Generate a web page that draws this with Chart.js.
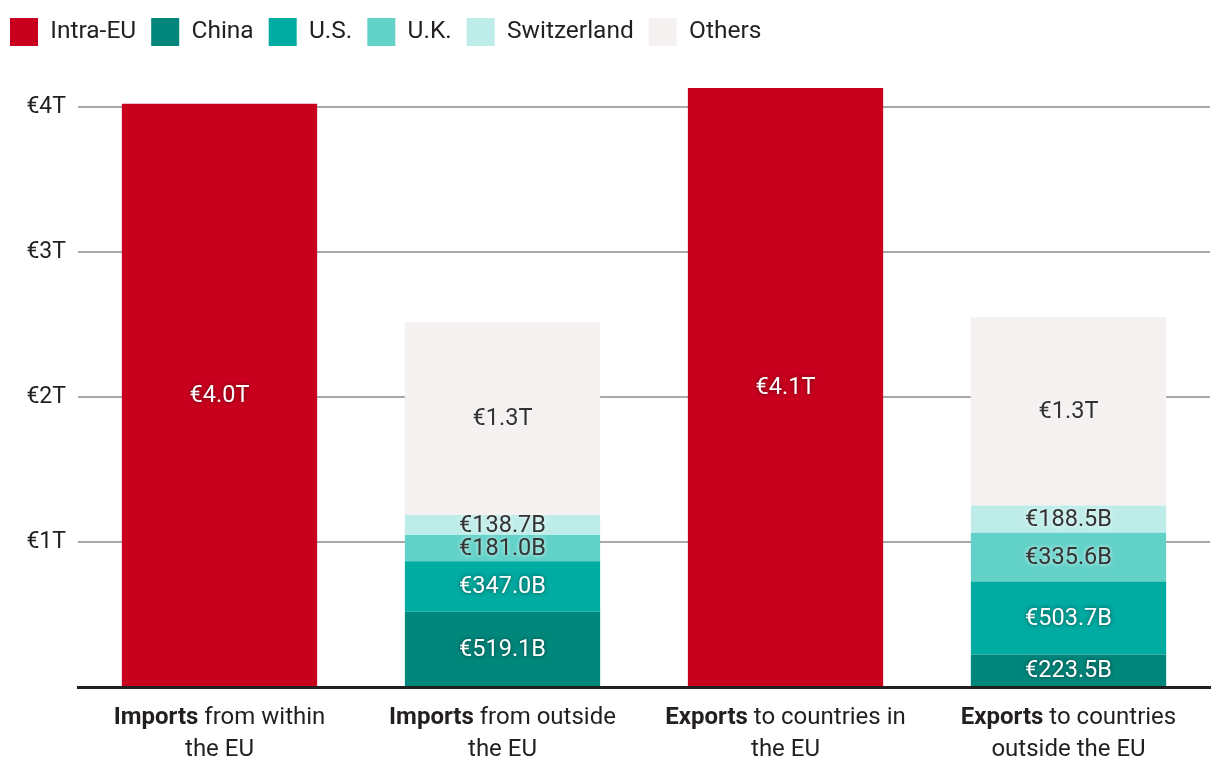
<!DOCTYPE html>
<html>
<head>
<meta charset="utf-8">
<script src="https://cdn.jsdelivr.net/npm/chart.js@4.4.1/dist/chart.umd.min.js"></script>
<style>
html,body{margin:0;padding:0;background:#fff;}
#wrap{width:1220px;height:770px;position:relative;}
</style>
</head>
<body>
<div id="wrap"><canvas id="c" width="1220" height="770"></canvas></div>
<script>
// Category labels: bold lead word, rest of first line, second line
const categoryBold = ['Imports', 'Imports', 'Exports', 'Exports'];
const categoryLine1 = [' from within', ' from outside', ' to countries in', ' to countries'];
const categoryLine2 = ['the EU', 'the EU', 'the EU', 'outside the EU'];
const categories = categoryBold.map((b, i) => [b + categoryLine1[i], categoryLine2[i]]);

// Values in billions of euros
const intraEU     = [4020, null, 4130, null];
const china       = [null, 519.1, null, 223.5];
const us          = [null, 347.0, null, 503.7];
const uk          = [null, 181.0, null, 335.6];
const switzerland = [null, 138.7, null, 188.5];
const others      = [null, 1330, null, 1300];

const seriesNames = ['Intra-EU', 'China', 'U.S.', 'U.K.', 'Switzerland', 'Others'];
const yTicks = [1000, 2000, 3000, 4000];

const colors = ['#C8001E', '#00877C', '#00ABA1', '#62D1C8', '#BEEDE9', '#F5F1F1'];
const labelDark = [false, false, false, true, true, true];

const FONT = 'Roboto, "Noto Sans", sans-serif';

function fmt(v) {
  if (v >= 1000) return '€' + (v / 1000).toFixed(1) + 'T';
  return '€' + v.toFixed(1) + 'B';
}

const valueLabels = {
  id: 'valueLabels',
  afterDatasetsDraw(chart) {
    const ctx = chart.ctx;
    ctx.save();
    ctx.font = '400 23.5px ' + FONT;
    ctx.textAlign = 'center';
    ctx.textBaseline = 'middle';
    chart.data.datasets.forEach((ds, di) => {
      const meta = chart.getDatasetMeta(di);
      meta.data.forEach((bar, i) => {
        const v = ds.data[i];
        if (v == null) return;
        const p = bar.getProps(['x', 'y', 'base'], true);
        const cy = (p.y + p.base) / 2 + 1;
        if (labelDark[di]) {
          ctx.fillStyle = '#333333';
          ctx.shadowColor = 'rgba(255,255,255,0.9)';
        } else {
          ctx.fillStyle = '#ffffff';
          ctx.shadowColor = 'rgba(0,0,0,0.55)';
        }
        ctx.shadowBlur = 4;
        ctx.fillText(fmt(v), p.x, cy);
      });
    });
    ctx.restore();
  }
};

const richXLabels = {
  id: 'richXLabels',
  afterDraw(chart) {
    const ctx = chart.ctx;
    const xs = chart.scales.x;
    ctx.save();
    ctx.fillStyle = '#231F20';
    ctx.textBaseline = 'middle';
    ctx.textAlign = 'left';
    const boldFont = '700 24px ' + FONT;
    const regFont = '400 24px ' + FONT;
    categories.forEach((c, i) => {
      const x = xs.getPixelForValue(i);
      const y1 = xs.top + 31;
      const y2 = y1 + 32;
      ctx.font = boldFont;
      const wb = ctx.measureText(categoryBold[i]).width;
      ctx.font = regFont;
      const wr = ctx.measureText(categoryLine1[i]).width;
      let sx = x - (wb + wr) / 2;
      ctx.font = boldFont;
      ctx.fillText(categoryBold[i], sx, y1);
      ctx.font = regFont;
      ctx.fillText(categoryLine1[i], sx + wb, y1);
      const w2 = ctx.measureText(categoryLine2[i]).width;
      ctx.fillText(categoryLine2[i], x - w2 / 2, y2);
    });
    ctx.restore();
  }
};

const seriesData = [intraEU, china, us, uk, switzerland, others];

new Chart(document.getElementById('c'), {
  type: 'bar',
  data: {
    labels: categories,
    datasets: seriesData.map((d, i) => ({
      label: seriesNames[i],
      data: d,
      backgroundColor: colors[i],
      borderWidth: 0,
      barPercentage: 0.69,
      categoryPercentage: 1.0
    }))
  },
  options: {
    responsive: false,
    animation: false,
    devicePixelRatio: 1,
    layout: { padding: { left: -5, right: 10, top: 3, bottom: 0 } },
    plugins: {
      legend: {
        position: 'top',
        align: 'start',
        labels: {
          boxWidth: 28,
          boxHeight: 28,
          padding: 15,
          color: '#231F20',
          font: { family: FONT, size: 24.5 }
        }
      },
      tooltip: { enabled: false }
    },
    scales: {
      x: {
        stacked: true,
        grid: { display: false, drawTicks: false },
        border: { display: true, color: '#231F20', width: 3 },
        ticks: { display: false },
        afterFit(s) { s.height = 83; }
      },
      y: {
        stacked: true,
        min: 0,
        max: 4350,
        border: { display: false },
        grid: {
          color: (c) => (c.tick && c.tick.value === 0 ? 'rgba(0,0,0,0)' : '#A8A8A8'),
          lineWidth: 2,
          drawTicks: false
        },
        afterBuildTicks(s) { s.ticks = [{ value: 0 }].concat(yTicks.map(v => ({ value: v }))); },
        ticks: {
          padding: 12,
          color: '#231F20',
          font: { family: FONT, size: 23 },
          callback: (v) => (v === 0 ? '' : '€' + (v / 1000) + 'T')
        },
        afterFit(s) { s.width = 83; }
      }
    }
  },
  plugins: [valueLabels, richXLabels]
});
</script>
</body>
</html>
